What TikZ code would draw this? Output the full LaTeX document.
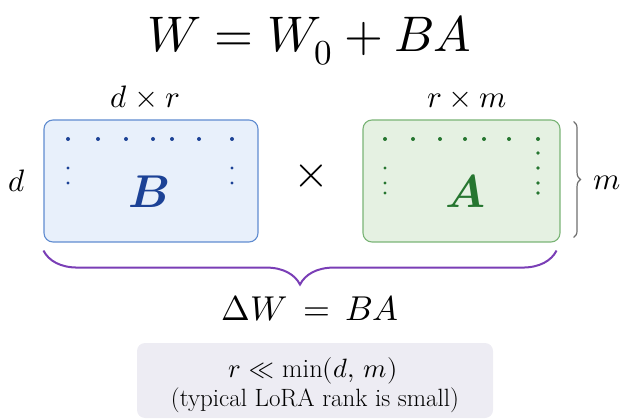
\documentclass[tikz,border=0pt]{standalone}
\usepackage{xcolor}
\definecolor{bfill}{RGB}{232,240,251}
\definecolor{bline}{RGB}{96,140,208}
\definecolor{btext}{RGB}{28,66,150}
\definecolor{afill}{RGB}{229,241,226}
\definecolor{aline}{RGB}{122,180,118}
\definecolor{atext}{RGB}{38,118,48}
\definecolor{bracepurple}{RGB}{122,62,182}
\definecolor{bracegray}{RGB}{110,110,110}
\definecolor{notefill}{RGB}{237,236,243}
\usepackage{tikz}
\usetikzlibrary{
    positioning,
    calc,
    decorations.pathreplacing
}
\usepackage{amsmath, amssymb}
\usepackage{unicode-math}
\setmathfont{Latin Modern Math}

\begin{document}
\begin{tikzpicture}[x=1pt, y=-1pt,
    matbox/.style={rounded corners=9pt, line width=1.1pt, minimum width=214pt, minimum height=122pt, inner sep=0pt},
    dimlabel/.style={anchor=base, font=\fontsize{31}{34}\selectfont},
    bigletter/.style={anchor=base, font=\fontsize{46}{50}\selectfont}]
        \useasboundingbox (0,0) rectangle (623,419);

        % Formula
        \node[anchor=base, font=\fontsize{50}{56}\selectfont] (formula) at (309,52) {$W = W_0 + BA$};

        % Matrix B
        \node[matbox, draw=bline, fill=bfill] (B) at (151,181) {};
        \node[bigletter, text=btext] (Bname) at (149,208) {$\symbfit{B}$};
        \foreach \x in {68,98,126,153,172,199,232}
            \fill[btext] (\x,139) circle (2pt);
        \foreach \y in {168,183} {
            \fill[btext] (68,\y) circle (1.6pt);
            \fill[btext] (232,\y) circle (1.6pt);
        }
        \node[dimlabel] (dr) at (145,108) {$d \times r$};
        \node[dimlabel] (dlab) at (17,192) {$d$};

        % Times
        \node[font=\fontsize{46}{50}\selectfont] (times) at (311,176) {$\times$};

        % Matrix A
        \node[matbox, draw=aline, fill=afill, minimum width=197pt] (A) at (461.5,181) {};
        \node[bigletter, text=atext] (Aname) at (465,208) {$\symbfit{A}$};
        \foreach \x in {385,413,440,465,484,509,538}
            \fill[atext] (\x,139) circle (2pt);
        \foreach \y in {168,183,193}
            \fill[atext] (385,\y) circle (1.6pt);
        \foreach \y in {153,168,183,193}
            \fill[atext] (538,\y) circle (1.8pt);
        \node[dimlabel] (rm) at (467,108) {$r \times m$};

        % Brace m
        \draw[decorate, decoration={brace, amplitude=7pt}, bracegray, line width=1.2pt]
            ($(A.north east)+(13,2)$) -- ($(A.south east)+(13,-5)$);
        \node[dimlabel] (mlab) at (607,190) {$m$};

        % Brace Delta W
        \draw[decorate, decoration={brace, amplitude=34pt, aspect=0.5}, bracepurple, line width=2pt]
            ($(A.south east)+(-4,8)$) -- ($(B.south west)+(0,8)$);
        \node[anchor=base, font=\fontsize{34.5}{38}\selectfont] (dW) at (310,320) {$\Delta W \,=\, BA$};

        % Note
        \node[fill=notefill, rounded corners=8pt, minimum width=356pt, minimum height=75pt] (note) at (315,380.5) {};
        \node[anchor=base, font=\fontsize{26.5}{30}\selectfont] (cond) at (313,377) {$r \ll \min(d,\, m)$};
        \node[anchor=base, font=\fontsize{25}{28}\selectfont] (typ) at (315,406) {(typical LoRA rank is small)};
\end{tikzpicture}
\end{document}
